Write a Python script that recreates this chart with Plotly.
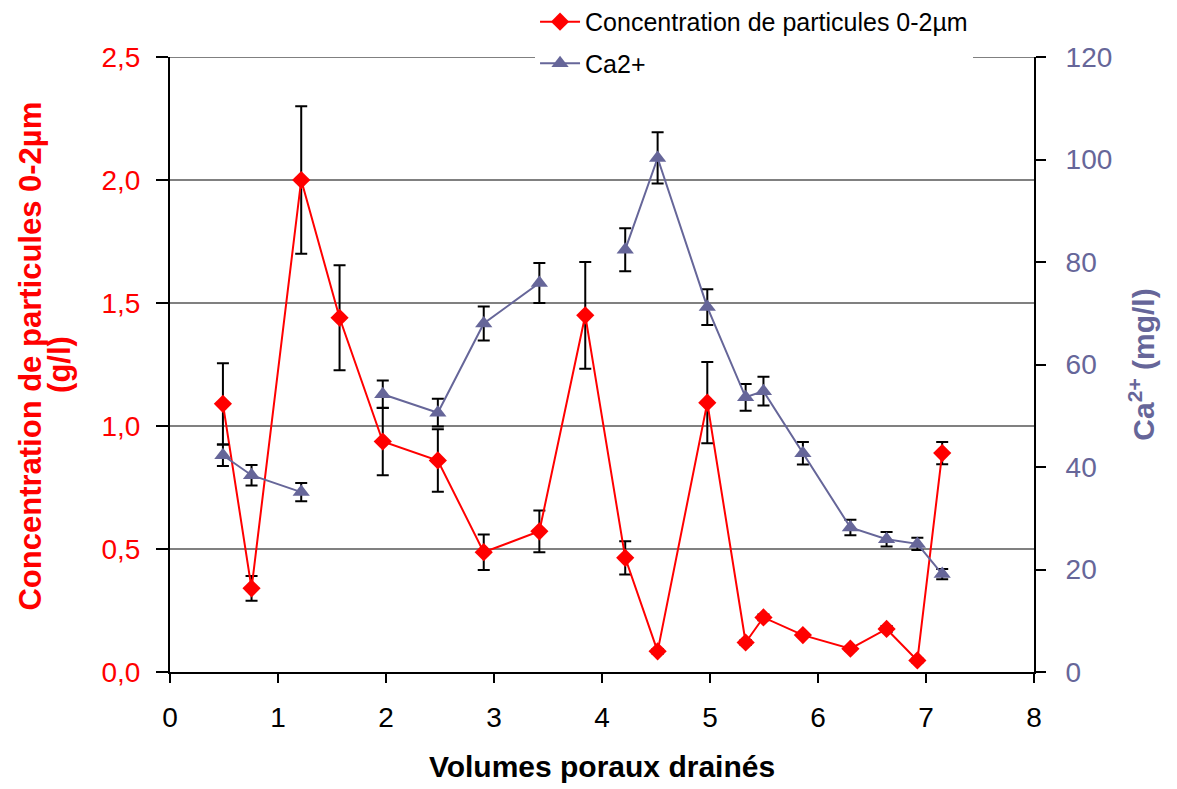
import plotly.graph_objects as go

# Data
volumes = [0.49, 0.755, 1.215, 1.57, 1.97, 2.48, 2.905, 3.42, 3.845, 4.215,
           4.515, 4.975, 5.33, 5.495, 5.86, 6.30, 6.635, 6.92, 7.15]
conc = [1.09, 0.34, 2.00, 1.44, 0.937, 0.86, 0.487, 0.572, 1.45, 0.464,
        0.084, 1.095, 0.12, 0.222, 0.15, 0.095, 0.175, 0.047, 0.89]
conc_err = [0.165, 0.05, 0.30, 0.213, 0.137, 0.127, 0.072, 0.085, 0.217, 0.068,
            0.01, 0.165, 0.01, 0.012, 0.008, 0.008, 0.012, 0.008, 0.045]
ca = [42.3, 38.4, 35.1, None, 54.2, 50.6, 68.0, 75.9, None, 82.4,
      100.3, 71.2, 53.6, 54.8, 42.7, 28.2, 25.9, 25.0, 19.1]
ca_err = [2.1, 2.0, 1.8, 0, 2.7, 2.7, 3.3, 3.9, 0, 4.2,
          5.0, 3.5, 2.6, 2.8, 2.2, 1.5, 1.4, 1.2, 1.0]

y_top = 2.5
y2_top = 120
x_max = 8

RED = "#FF0000"
BLUE = "#666699"
FONT = "Arial, 'Liberation Sans', sans-serif"

fig = go.Figure()
fig.add_trace(go.Scatter(
    x=volumes, y=conc, name="Concentration de particules 0-2µm",
    mode="lines+markers", legendgroup="a",
    line=dict(color=RED, width=2),
    marker=dict(symbol="diamond", size=14, color=RED),
    error_y=dict(type="data", array=conc_err, color="black", thickness=2, width=6),
))
fig.add_trace(go.Scatter(
    x=volumes, y=ca, name="Ca2+", yaxis="y2",
    mode="lines+markers", connectgaps=False, legendgroup="b",
    line=dict(color=BLUE, width=2),
    marker=dict(symbol="triangle-up", size=15, color=BLUE),
    error_y=dict(type="data", array=ca_err, color="black", thickness=2, width=6),
))

# gridline at the top of the left axis (range end)
fig.add_shape(type="line", xref="paper", x0=0, x1=1, yref="y", y0=y_top, y1=y_top,
              line=dict(color="#808080", width=2), layer="below")

# left axis title as two tightly spaced rotated lines
fig.add_annotation(text="<b>Concentration de particules 0-2µm</b>", textangle=-90,
                   xref="paper", yref="paper", x=-0.162, y=0.513,
                   xanchor="center", yanchor="middle", showarrow=False,
                   font=dict(size=31, color=RED))
fig.add_annotation(text="<b>(g/l)</b>", textangle=-90,
                   xref="paper", yref="paper", x=-0.128, y=0.50,
                   xanchor="center", yanchor="middle", showarrow=False,
                   font=dict(size=31, color=RED))

fig.update_layout(
    width=1169, height=781,
    margin=dict(l=162, r=143, t=49, b=117, autoexpand=False),
    paper_bgcolor="white", plot_bgcolor="white",
    separators=",.",
    font=dict(family=FONT, size=25, color="black"),
    showlegend=True,
    legend=dict(
        x=0.4225, y=1.0945, xanchor="left", yanchor="top",
        bgcolor="white", font=dict(size=25, color="black"),
        traceorder="grouped", tracegroupgap=6,
        itemwidth=40,
    ),
    xaxis=dict(
        range=[0, x_max], dtick=1, tick0=0,
        showgrid=False, zeroline=False,
        showline=True, linecolor="black", linewidth=2,
        ticks="outside", ticklen=9, tickwidth=2, tickcolor="black",
        tickfont=dict(size=28, color="black"), ticklabelstandoff=10,
        title=dict(text="<b>Volumes poraux drainés</b>", font=dict(size=30, color="black"), standoff=24),
    ),
    yaxis=dict(
        range=[0, y_top], dtick=0.5, tick0=0, tickformat=".1f",
        showgrid=True, gridcolor="#808080", gridwidth=2,
        zeroline=False,
        showline=True, linecolor="black", linewidth=2,
        ticks="outside", ticklen=12, tickwidth=2, tickcolor="black",
        tickfont=dict(size=28, color=RED), ticklabelstandoff=10,
    ),
    yaxis2=dict(
        range=[0, y2_top], dtick=20, tick0=0,
        overlaying="y", side="right",
        showgrid=False, zeroline=False,
        showline=True, linecolor="black", linewidth=2,
        ticks="outside", ticklen=10, tickwidth=2, tickcolor="black",
        tickfont=dict(size=28, color=BLUE), ticklabelstandoff=14,
        title=dict(text="<b>Ca<sup>2+</sup> (mg/l)</b>", font=dict(size=30, color=BLUE), standoff=22),
    ),
)

fig.write_html("out.html")
